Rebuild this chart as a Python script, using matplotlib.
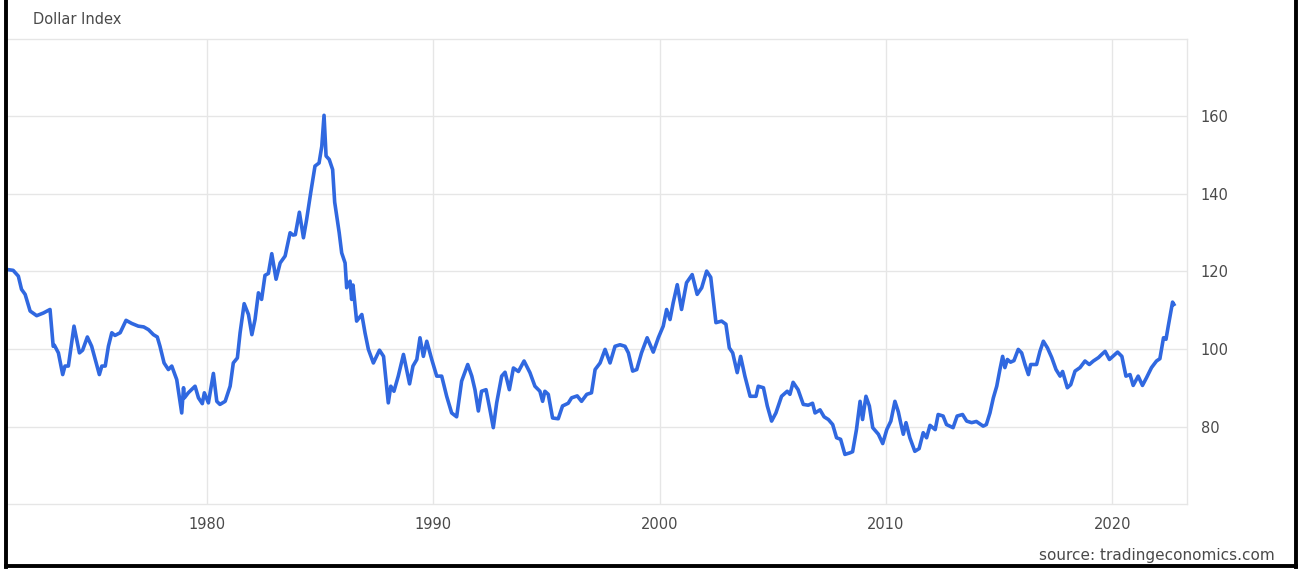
import matplotlib
matplotlib.use("Agg")
import matplotlib.pyplot as plt
from matplotlib.lines import Line2D

# Dollar index (decimal year, index level)
years = [
    1971.17, 1971.43, 1971.66, 1971.80, 1971.96, 1972.18, 1972.47, 1972.77, 1973.06, 1973.20,
    1973.25, 1973.43, 1973.62, 1973.72, 1973.87, 1974.12, 1974.36, 1974.50, 1974.71, 1974.90,
    1975.24, 1975.35, 1975.50, 1975.64, 1975.79, 1975.93, 1976.16, 1976.42, 1976.67, 1976.96,
    1977.20, 1977.41, 1977.63, 1977.80, 1977.92, 1978.10, 1978.29, 1978.44, 1978.66, 1978.88,
    1978.96, 1979.00, 1979.17, 1979.47, 1979.62, 1979.79, 1979.88, 1980.06, 1980.28, 1980.43,
    1980.57, 1980.80, 1981.02, 1981.16, 1981.34, 1981.46, 1981.64, 1981.83, 1981.98, 1982.12,
    1982.27, 1982.41, 1982.56, 1982.71, 1982.86, 1983.05, 1983.23, 1983.45, 1983.67, 1983.80,
    1983.90, 1984.08, 1984.26, 1984.40, 1984.58, 1984.77, 1984.95, 1985.07, 1985.17, 1985.26,
    1985.40, 1985.55, 1985.64, 1985.84, 1985.95, 1986.10, 1986.17, 1986.32, 1986.39, 1986.45,
    1986.61, 1986.84, 1986.98, 1987.13, 1987.35, 1987.62, 1987.80, 1988.01, 1988.12, 1988.26,
    1988.45, 1988.68, 1988.95, 1989.10, 1989.27, 1989.41, 1989.56, 1989.71, 1989.93, 1990.15,
    1990.37, 1990.59, 1990.81, 1991.03, 1991.25, 1991.52, 1991.70, 1991.84, 1991.99, 1992.13,
    1992.33, 1992.50, 1992.65, 1992.80, 1993.02, 1993.17, 1993.36, 1993.54, 1993.76, 1994.01,
    1994.27, 1994.49, 1994.71, 1994.83, 1994.93, 1995.08, 1995.27, 1995.52, 1995.71, 1995.96,
    1996.11, 1996.36, 1996.55, 1996.78, 1996.99, 1997.15, 1997.37, 1997.59, 1997.81, 1998.03,
    1998.25, 1998.47, 1998.62, 1998.81, 1998.99, 1999.20, 1999.45, 1999.72, 1999.95, 2000.16,
    2000.31, 2000.46, 2000.60, 2000.78, 2000.97, 2001.19, 2001.44, 2001.66, 2001.86, 2002.08,
    2002.26, 2002.49, 2002.74, 2002.93, 2003.08, 2003.23, 2003.43, 2003.58, 2003.77, 2004.00,
    2004.26, 2004.36, 2004.59, 2004.76, 2004.95, 2005.14, 2005.39, 2005.64, 2005.76, 2005.90,
    2006.12, 2006.35, 2006.57, 2006.76, 2006.87, 2007.09, 2007.27, 2007.46, 2007.65, 2007.82,
    2008.00, 2008.19, 2008.41, 2008.53, 2008.70, 2008.86, 2008.97, 2009.12, 2009.27, 2009.42,
    2009.67, 2009.86, 2010.04, 2010.22, 2010.40, 2010.55, 2010.66, 2010.77, 2010.89, 2011.06,
    2011.28, 2011.47, 2011.65, 2011.80, 2011.95, 2012.18, 2012.31, 2012.53, 2012.68, 2012.97,
    2013.15, 2013.39, 2013.57, 2013.79, 2014.00, 2014.30, 2014.44, 2014.60, 2014.75, 2014.90,
    2015.04, 2015.16, 2015.26, 2015.37, 2015.51, 2015.66, 2015.85, 2016.00, 2016.15, 2016.30,
    2016.40, 2016.66, 2016.81, 2016.96, 2017.14, 2017.33, 2017.52, 2017.70, 2017.81, 2018.02,
    2018.17, 2018.36, 2018.58, 2018.80, 2018.99, 2019.17, 2019.40, 2019.54, 2019.69, 2019.88,
    2020.03, 2020.24, 2020.43, 2020.61, 2020.79, 2020.93, 2021.15, 2021.34, 2021.52, 2021.74,
    2021.96, 2022.11, 2022.27, 2022.38, 2022.48, 2022.67, 2022.73,
]
values = [
    120.5, 120.3, 118.8, 115.4, 114.1, 109.8, 108.6, 109.3, 110.2, 100.7,
    101.0, 99.0, 93.4, 95.6, 95.6, 105.9, 99.0, 99.7, 103.1, 100.7,
    93.4, 95.6, 95.6, 100.7, 104.2, 103.5, 104.2, 107.4, 106.6, 105.9,
    105.7, 105.0, 103.7, 103.1, 100.7, 96.4, 94.7, 95.6, 92.1, 83.5,
    90.0, 87.4, 88.7, 90.4, 87.4, 85.9, 88.7, 86.1, 93.7, 86.5,
    85.7, 86.5, 90.4, 96.4, 97.7, 104.2, 111.7, 108.9, 103.7, 107.6,
    114.5, 112.8, 119.0, 119.5, 124.6, 118.0, 122.2, 124.0, 130.0, 129.4,
    129.5, 135.3, 128.7, 133.4, 140.3, 147.2, 148.0, 152.3, 160.3, 149.8,
    148.9, 146.3, 137.9, 130.0, 124.8, 122.2, 115.8, 117.5, 112.8, 116.5,
    107.2, 108.9, 104.2, 99.9, 96.4, 99.7, 98.1, 86.1, 90.4, 89.1,
    93.0, 98.6, 91.0, 95.6, 97.3, 102.9, 98.1, 102.0, 97.3, 93.0,
    93.0, 87.8, 83.5, 82.5, 91.7, 96.0, 93.0, 89.5, 84.0, 89.1,
    89.5, 84.4, 79.7, 86.1, 93.0, 94.0, 89.5, 95.1, 94.2, 96.9,
    93.9, 90.4, 89.1, 86.5, 89.1, 88.3, 82.2, 82.0, 85.3, 86.0,
    87.4, 87.9, 86.5, 88.3, 88.7, 94.7, 96.4, 99.9, 96.4, 100.7,
    101.1, 100.7, 99.0, 94.3, 94.7, 99.0, 102.9, 99.2, 103.0, 105.9,
    110.2, 107.6, 111.9, 116.6, 110.2, 117.1, 119.2, 114.1, 115.8, 120.1,
    118.5, 106.8, 107.2, 106.4, 100.3, 99.0, 93.9, 98.1, 93.0, 87.8,
    87.8, 90.4, 90.0, 85.3, 81.4, 83.5, 87.8, 89.1, 88.3, 91.4,
    89.5, 85.7, 85.5, 86.0, 83.5, 84.3, 82.5, 81.8, 80.5, 77.1,
    76.7, 72.8, 73.2, 73.5, 79.2, 86.5, 81.8, 87.8, 85.3, 79.7,
    78.0, 75.6, 79.2, 81.4, 86.5, 83.8, 80.8, 78.0, 81.0, 77.1,
    73.6, 74.3, 78.4, 77.1, 80.3, 79.2, 83.1, 82.7, 80.5, 79.7,
    82.7, 83.1, 81.4, 81.0, 81.3, 80.1, 80.5, 83.5, 87.4, 90.4,
    94.7, 98.1, 95.2, 97.3, 96.6, 97.0, 99.9, 99.0, 96.0, 93.4,
    96.0, 96.0, 99.4, 102.0, 100.3, 97.8, 94.7, 93.0, 94.2, 90.0,
    90.8, 94.3, 95.2, 96.9, 96.0, 96.9, 97.8, 98.6, 99.4, 97.3,
    98.1, 99.2, 98.1, 93.0, 93.4, 90.6, 93.0, 90.6, 92.6, 95.2,
    96.9, 97.5, 102.9, 102.5, 105.9, 112.1, 111.5,
]

x_ticks = [1980, 1990, 2000, 2010, 2020]
y_ticks = [80, 100, 120, 140, 160]

grid_col = "#e6e6e6"
text_col = "#4a4a4a"

fig = plt.figure(figsize=(13.03, 5.69), dpi=100)
ax = fig.add_axes([0.0054, 0.1142, 0.9056, 0.8173])

ax.plot(years, values, color="#3068e0", linewidth=2.6, solid_joinstyle="round")

ax.set_xlim(1971.16, 2023.31)
ax.set_ylim(60, 180)
ax.set_xticks(x_ticks)
ax.set_yticks(y_ticks)
ax.yaxis.tick_right()
ax.tick_params(axis="both", length=0, labelsize=10.5, labelcolor=text_col)
ax.tick_params(axis="y", pad=10)
ax.tick_params(axis="x", pad=9)
ax.grid(True, color=grid_col, linewidth=1)
ax.set_axisbelow(True)

for side in ["top", "right", "bottom"]:
    ax.spines[side].set_color(grid_col)
    ax.spines[side].set_linewidth(1)
ax.spines["left"].set_visible(False)

fig.text(33 / 1303, 0.965, "Dollar Index", fontsize=10.5, color=text_col,
         ha="left", va="center")
fig.text(1275 / 1303, 0.023, "source: tradingeconomics.com", fontsize=11,
         color=text_col, ha="right", va="center")

# black frame around the picture (no top edge)
frame = dict(color="black", linewidth=2.8, transform=fig.transFigure)
fig.add_artist(Line2D([6 / 1303, 6 / 1303], [0.004, 1], **frame))
fig.add_artist(Line2D([1296 / 1303, 1296 / 1303], [0.004, 1], **frame))
fig.add_artist(Line2D([6 / 1303, 1296 / 1303], [0.006, 0.006], **frame))

fig.savefig("out.png", dpi=100)
